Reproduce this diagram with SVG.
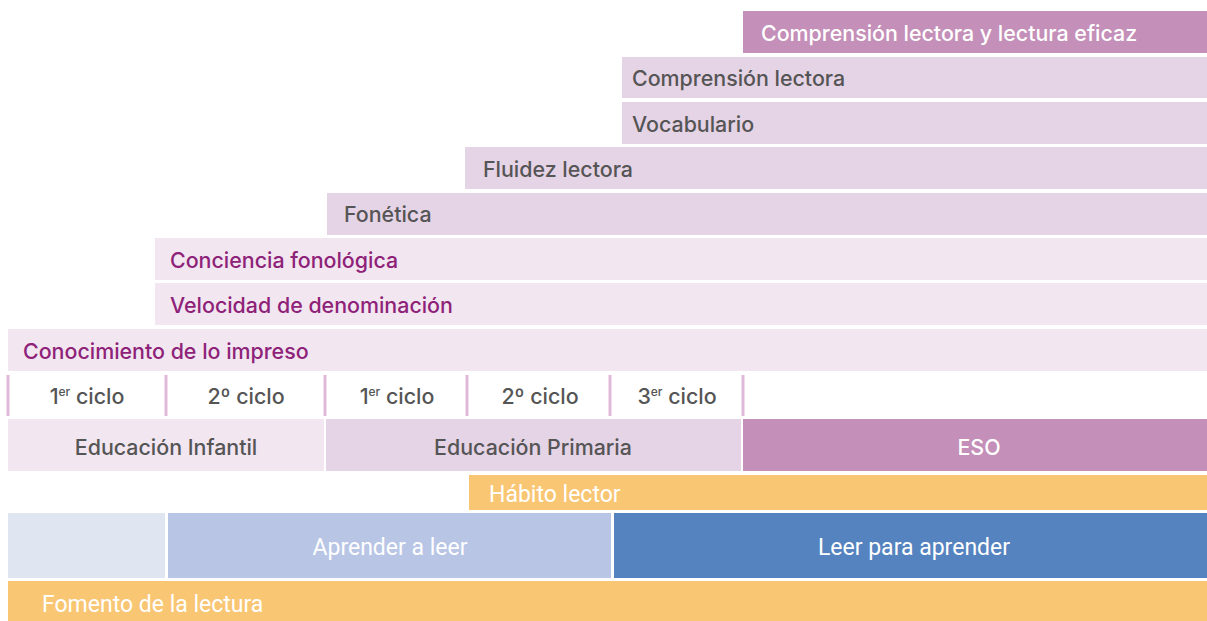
<svg xmlns="http://www.w3.org/2000/svg" width="1207" height="621" viewBox="0 0 1207 621">
<style>
.t{font-family:Inter,"Liberation Sans",sans-serif;font-size:21.4px;font-weight:500}
.r{font-family:Roboto,"Liberation Sans",sans-serif;font-size:23px}
.g{fill:#555555}
.p{fill:#8e2278}
.w{fill:#ffffff}
.c1{fill:#f2e6f1}
.c2{fill:#e5d3e6}
.c3{fill:#c48fb8}
.or{fill:#f9c674}
.sep{stroke:#e0b9d8;stroke-width:3}
</style>
<rect width="1207" height="621" fill="#ffffff"/>
<g id="comprension-eficaz"><rect class="c3" x="743" y="11" width="464" height="42"/><text class="t w" x="761" y="41">Comprensión lectora y lectura eficaz</text></g>
<g id="comprension"><rect class="c2" x="622" y="57" width="585" height="41"/><text class="t g" x="632" y="86">Comprensión lectora</text></g>
<g id="vocabulario"><rect class="c2" x="622" y="102" width="585" height="42"/><text class="t g" x="632" y="132">Vocabulario</text></g>
<g id="fluidez"><rect class="c2" x="465" y="147" width="742" height="42"/><text class="t g" x="483" y="177">Fluidez lectora</text></g>
<g id="fonetica"><rect class="c2" x="327" y="193" width="880" height="42"/><text class="t g" x="344" y="222">Fonética</text></g>
<g id="conciencia"><rect class="c1" x="155" y="238" width="1052" height="42"/><text class="t p" x="170" y="268">Conciencia fonológica</text></g>
<g id="velocidad"><rect class="c1" x="155" y="283" width="1052" height="42"/><text class="t p" x="170" y="313">Velocidad de denominación</text></g>
<g id="conocimiento"><rect class="c1" x="8" y="329" width="1199" height="42"/><text class="t p" x="23" y="359">Conocimiento de lo impreso</text></g>
<g id="ciclos">
<line class="sep" x1="8" y1="375" x2="8" y2="416"/>
<line class="sep" x1="166" y1="375" x2="166" y2="416"/>
<line class="sep" x1="325" y1="375" x2="325" y2="416"/>
<line class="sep" x1="467" y1="375" x2="467" y2="416"/>
<line class="sep" x1="610" y1="375" x2="610" y2="416"/>
<line class="sep" x1="743" y1="375" x2="743" y2="416"/>
<text class="t g" x="87" y="404" text-anchor="middle">1<tspan font-size="12" dy="-8">er</tspan><tspan dy="8"> ciclo</tspan></text>
<text class="t g" x="246" y="404" text-anchor="middle">2º ciclo</text>
<text class="t g" x="397" y="404" text-anchor="middle">1<tspan font-size="12" dy="-8">er</tspan><tspan dy="8"> ciclo</tspan></text>
<text class="t g" x="540" y="404" text-anchor="middle">2º ciclo</text>
<text class="t g" x="677" y="404" text-anchor="middle">3<tspan font-size="12" dy="-8">er</tspan><tspan dy="8"> ciclo</tspan></text>
</g>
<g id="infantil"><rect class="c1" x="8" y="419" width="316" height="52"/><text class="t g" x="166" y="455" text-anchor="middle">Educación Infantil</text></g>
<g id="primaria"><rect class="c2" x="326" y="419" width="415" height="52"/><text class="t g" x="533" y="455" text-anchor="middle">Educación Primaria</text></g>
<g id="eso"><rect class="c3" x="743" y="419" width="464" height="52"/><text class="t w" x="979" y="455" text-anchor="middle">ESO</text></g>
<g id="habito"><rect class="or" x="469" y="475" width="738" height="35"/><text class="r w" x="489" y="502">Hábito lector</text></g>
<g id="pre"><rect x="8" y="513" width="157" height="65" fill="#e0e5f2"/></g>
<g id="aprender"><rect x="168" y="513" width="443" height="65" fill="#b8c5e5"/><text class="r w" x="390" y="555" text-anchor="middle">Aprender a leer</text></g>
<g id="leer"><rect x="614" y="513" width="593" height="65" fill="#5583c0"/><text class="r w" x="914" y="555" text-anchor="middle">Leer para aprender</text></g>
<g id="fomento"><rect class="or" x="8" y="581" width="1199" height="40"/><text class="r w" x="42" y="612">Fomento de la lectura</text></g>
<g id="connectors"/>
</svg>
